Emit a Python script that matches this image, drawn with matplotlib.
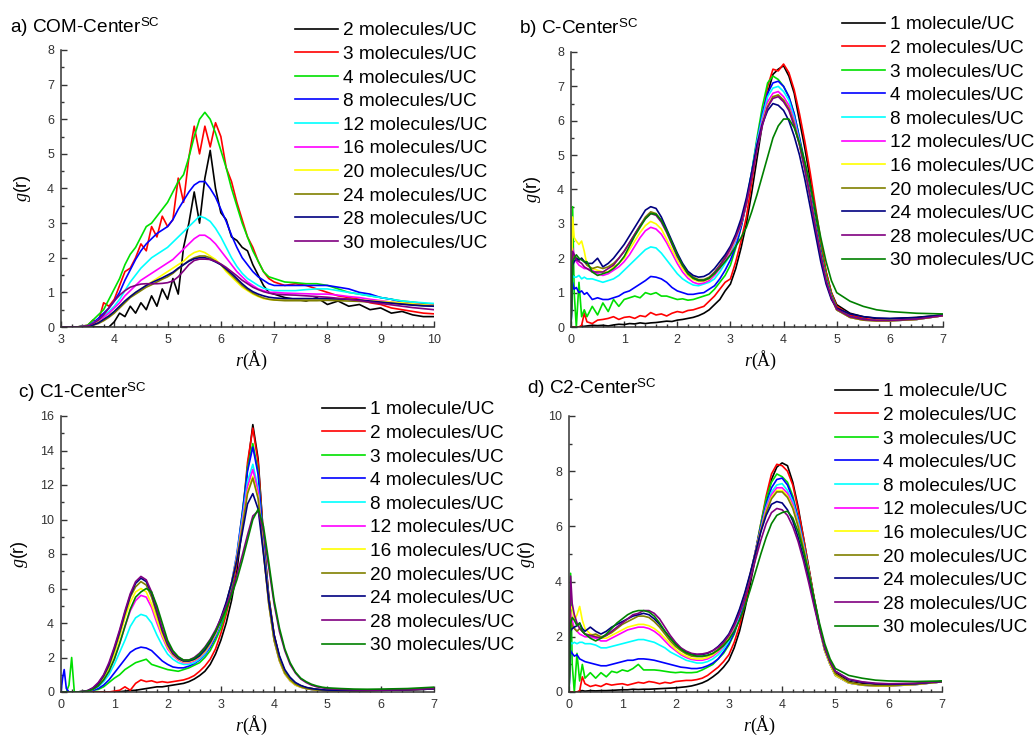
import matplotlib

matplotlib.use("Agg")

import matplotlib.pyplot as plt
from matplotlib.ticker import MultipleLocator


# ---------------------------------------------------------------
# a) COM-Center  (r grid + one g(r) list per loading)
# ---------------------------------------------------------------
COM_R = [
    3.0, 3.3, 3.5, 3.6, 3.7, 3.8, 3.9, 4.0, 4.1, 4.2,
    4.3, 4.4, 4.5, 4.6, 4.7, 4.8, 4.9, 5.0, 5.1, 5.2,
    5.3, 5.4, 5.5, 5.6, 5.7, 5.8, 5.9, 6.0, 6.1, 6.2,
    6.3, 6.4, 6.5, 6.6, 6.7, 6.8, 6.9, 7.0,
    7.2, 7.4, 7.6, 7.8, 8.0, 8.2, 8.4, 8.6, 8.8, 9.0, 9.2, 9.4, 9.6, 9.8, 10.0,
]
COM_2 = [
    0, 0, 0, 0, 0, 0, 0, 0.15, 0.4, 0.3,
    0.6, 0.4, 0.7, 0.5, 0.9, 0.6, 1.1, 0.8, 1.4, 0.95,
    2.3, 3.0, 3.9, 3.0, 4.3, 5.1, 4.0, 3.3, 3.1, 2.6,
    2.5, 2.3, 2.2, 1.8, 1.5, 1.2, 1.0, 0.95,
    0.85, 0.8, 0.75, 0.85, 0.65, 0.75, 0.6, 0.65, 0.5, 0.55, 0.4, 0.45, 0.35, 0.3, 0.3,
]
COM_3 = [
    0, 0, 0.05, 0.2, 0.15, 0.7, 0.6, 0.8, 1.2, 1.6,
    1.7, 2.0, 2.4, 2.2, 2.9, 2.6, 3.2, 2.9, 3.1, 4.3,
    3.6, 4.9, 5.8, 5.0, 5.8, 5.2, 5.9, 5.5, 4.6, 4.2,
    3.6, 3.1, 2.6, 2.3, 1.9, 1.6, 1.4, 1.3,
    1.2, 1.25, 1.2, 1.1, 1.0, 0.9, 0.85, 0.8, 0.7, 0.65, 0.55, 0.5, 0.45, 0.4, 0.38,
]
COM_4 = [
    0, 0, 0.05, 0.2, 0.35, 0.5, 0.8, 1.1, 1.4, 1.8,
    2.1, 2.3, 2.6, 2.9, 3.0, 3.2, 3.4, 3.6, 3.9, 4.2,
    4.4, 4.9, 5.5, 6.0, 6.2, 6.0, 5.6, 5.1, 4.6, 4.0,
    3.5, 3.0, 2.6, 2.2, 1.9, 1.6, 1.45, 1.4,
    1.3, 1.28, 1.25, 1.25, 1.2, 1.1, 1.0, 0.95, 0.9, 0.85, 0.8, 0.75, 0.72, 0.68, 0.65,
]
COM_8 = [
    0, 0, 0.03, 0.12, 0.25, 0.4, 0.55, 0.75, 1.0, 1.35,
    1.65, 1.95, 2.2, 2.4, 2.55, 2.7, 2.8, 2.9, 3.1, 3.4,
    3.65, 3.9, 4.1, 4.2, 4.2, 4.0, 3.75, 3.4, 3.05, 2.65,
    2.3, 2.0, 1.8, 1.6, 1.45, 1.35, 1.25, 1.2,
    1.2, 1.2, 1.2, 1.2, 1.2, 1.15, 1.1, 1.0, 0.95, 0.85, 0.8, 0.72, 0.68, 0.65, 0.62,
]
COM_12 = [
    0, 0, 0.03, 0.1, 0.2, 0.32, 0.45, 0.6, 0.8, 1.05,
    1.3, 1.5, 1.7, 1.85, 2.0, 2.1, 2.2, 2.3, 2.45, 2.6,
    2.75, 2.9, 3.05, 3.2, 3.15, 3.05, 2.85, 2.6, 2.3, 2.0,
    1.75, 1.55, 1.4, 1.3, 1.2, 1.12, 1.08, 1.05,
    1.05, 1.05, 1.08, 1.1, 1.1, 1.05, 1.0, 0.95, 0.9, 0.85, 0.8, 0.75, 0.72, 0.7, 0.68,
]
COM_16 = [
    0, 0, 0.02, 0.08, 0.18, 0.28, 0.4, 0.55, 0.7, 0.9,
    1.05, 1.2, 1.35, 1.45, 1.55, 1.65, 1.75, 1.85, 1.95, 2.1,
    2.25, 2.4, 2.55, 2.65, 2.65, 2.55, 2.4, 2.2, 2.0, 1.8,
    1.6, 1.45, 1.3, 1.2, 1.1, 1.05, 1.0, 1.0,
    0.98, 0.97, 0.96, 0.95, 0.95, 0.92, 0.88, 0.85, 0.8, 0.76, 0.72, 0.68, 0.66, 0.64, 0.62,
]
COM_20 = [
    0, 0, 0.02, 0.06, 0.14, 0.22, 0.32, 0.45, 0.6, 0.75,
    0.88, 1.0, 1.1, 1.2, 1.3, 1.4, 1.5, 1.6, 1.7, 1.8,
    1.9, 2.05, 2.15, 2.2, 2.15, 2.05, 1.95, 1.8, 1.6, 1.45,
    1.3, 1.15, 1.05, 0.95, 0.88, 0.82, 0.8, 0.78,
    0.78, 0.78, 0.78, 0.79, 0.8, 0.8, 0.8, 0.78, 0.76, 0.74, 0.72, 0.7, 0.67, 0.64, 0.62,
]
COM_24 = [
    0, 0, 0.02, 0.05, 0.1, 0.18, 0.28, 0.4, 0.55, 0.7,
    0.85, 0.95, 1.05, 1.15, 1.22, 1.3, 1.38, 1.45, 1.55, 1.68,
    1.8, 1.92, 2.0, 2.05, 2.05, 2.0, 1.9, 1.8, 1.65, 1.5,
    1.35, 1.2, 1.08, 0.98, 0.9, 0.84, 0.8, 0.78,
    0.76, 0.76, 0.76, 0.76, 0.77, 0.76, 0.75, 0.74, 0.72, 0.7, 0.68, 0.66, 0.64, 0.62, 0.6,
]
COM_28 = [
    0, 0, 0.02, 0.06, 0.12, 0.22, 0.32, 0.45, 0.6, 0.75,
    0.88, 1.0, 1.1, 1.2, 1.28, 1.35, 1.42, 1.5, 1.58, 1.7,
    1.8, 1.9, 1.97, 2.0, 2.0, 1.95, 1.88, 1.8, 1.68, 1.55,
    1.4, 1.25, 1.12, 1.02, 0.95, 0.9, 0.86, 0.84,
    0.82, 0.82, 0.82, 0.82, 0.82, 0.81, 0.8, 0.78, 0.75, 0.72, 0.69, 0.66, 0.63, 0.61, 0.6,
]
COM_30 = [
    0, 0, 0.03, 0.1, 0.2, 0.35, 0.55, 0.75, 0.92, 1.05,
    1.15, 1.2, 1.24, 1.25, 1.25, 1.25, 1.26, 1.28, 1.33, 1.45,
    1.62, 1.8, 1.92, 1.96, 1.96, 1.95, 1.9, 1.82, 1.72, 1.6,
    1.48, 1.35, 1.25, 1.15, 1.08, 1.02, 0.98, 0.95,
    0.93, 0.92, 0.9, 0.88, 0.86, 0.83, 0.8, 0.76, 0.72, 0.68, 0.64, 0.6, 0.56, 0.53, 0.5,
]

# shared r grid for panels b, c, d
R_GRID = [
    0, 0.03, 0.06, 0.1, 0.15, 0.2, 0.25, 0.3, 0.4, 0.5,
    0.6, 0.7, 0.8, 0.9, 1.0, 1.1, 1.2, 1.3, 1.4, 1.5,
    1.6, 1.7, 1.8, 1.9, 2.0, 2.1, 2.2, 2.3, 2.4, 2.5,
    2.6, 2.7, 2.8, 2.9, 3.0, 3.1, 3.2, 3.3, 3.4, 3.5,
    3.6, 3.7, 3.8, 3.9, 4.0, 4.1, 4.2, 4.3, 4.4, 4.5,
    4.6, 4.7, 4.8, 4.9, 5.0,
    5.25, 5.5, 5.75, 6.0, 6.5, 7.0,
]

# ---------------------------------------------------------------
# b) C-Center
# ---------------------------------------------------------------
CC_1 = [
    0, 0, 0, 0, 0, 0, 0.02, 0.03, 0.05, 0.04,
    0.05, 0.03, 0.06, 0.08, 0.07, 0.1, 0.09, 0.12, 0.1, 0.12,
    0.13, 0.15, 0.17, 0.16, 0.2, 0.22, 0.25, 0.28, 0.33, 0.4,
    0.5, 0.65, 0.8, 1.05, 1.25, 1.7, 2.3, 3.0, 3.9, 4.9,
    5.9, 6.8, 7.35, 7.5, 7.6, 7.3, 6.8, 6.0, 5.2, 4.3,
    3.3, 2.4, 1.6, 1.0, 0.65,
    0.4, 0.3, 0.25, 0.24, 0.28, 0.35,
]
CC_2 = [
    0, 0, 0, 0, 0, 0.05, 0.4, 0.15, 0.1, 0.2,
    0.22, 0.25, 0.3, 0.22, 0.28, 0.3, 0.25, 0.33, 0.3, 0.42,
    0.35, 0.38, 0.32, 0.4, 0.45, 0.42, 0.48, 0.5, 0.55, 0.6,
    0.75, 0.9, 1.1, 1.3, 1.4, 1.9, 2.5, 3.2, 4.2, 5.2,
    6.1, 7.0, 7.5, 7.45, 7.65, 7.4, 6.9, 6.2, 5.4, 4.5,
    3.5, 2.5, 1.6, 1.0, 0.6,
    0.35, 0.25, 0.2, 0.2, 0.25, 0.33,
]
CC_3 = [
    0, 3.5, 1.0, 0, 1.3, 0.3, 0.5, 0.3, 0.6, 0.35,
    0.7, 0.45, 0.8, 0.6, 0.8, 0.85, 0.9, 0.85, 1.0, 0.95,
    1.0, 0.9, 0.9, 0.85, 0.8, 0.82, 0.78, 0.8, 0.85, 0.9,
    0.95, 1.1, 1.3, 1.5, 1.8, 2.3, 2.9, 3.6, 4.5, 5.5,
    6.4, 7.1, 7.3, 7.2, 7.0, 6.7, 6.2, 5.5, 4.8, 4.0,
    3.1, 2.3, 1.5, 0.95, 0.55,
    0.3, 0.22, 0.18, 0.2, 0.25, 0.35,
]
CC_4 = [
    0, 1.3, 1.1, 1.15, 1.0, 1.05, 0.95, 1.0, 0.8, 0.85,
    0.8, 0.8, 0.85, 0.9, 1.0, 1.05, 1.15, 1.25, 1.35, 1.47,
    1.45, 1.4, 1.3, 1.15, 1.05, 1.0, 0.95, 0.95, 0.98, 1.0,
    1.1, 1.2, 1.4, 1.65, 1.95, 2.35, 2.9, 3.6, 4.5, 5.4,
    6.2, 6.8, 7.1, 7.15, 7.0, 6.7, 6.2, 5.5, 4.7, 3.9,
    3.0, 2.2, 1.4, 0.9, 0.5,
    0.3, 0.22, 0.18, 0.18, 0.22, 0.33,
]
CC_8 = [
    0, 1.5, 1.45, 1.45, 1.5, 1.4, 1.45, 1.4, 1.4, 1.35,
    1.3, 1.35, 1.4, 1.5, 1.65, 1.8, 1.95, 2.1, 2.25, 2.33,
    2.3, 2.15, 1.95, 1.75, 1.55, 1.4, 1.3, 1.22, 1.2, 1.25,
    1.3, 1.4, 1.6, 1.85, 2.1, 2.5, 3.0, 3.7, 4.5, 5.4,
    6.1, 6.7, 6.95, 7.0, 6.85, 6.6, 6.1, 5.4, 4.6, 3.8,
    2.9, 2.1, 1.35, 0.85, 0.5,
    0.28, 0.2, 0.18, 0.18, 0.22, 0.33,
]
CC_12 = [
    0, 2.3, 2.1, 1.9, 1.8, 1.75, 1.7, 1.7, 1.65, 1.55,
    1.5, 1.55, 1.65, 1.75, 1.9, 2.1, 2.35, 2.6, 2.8, 2.9,
    2.85, 2.7, 2.45, 2.15, 1.85, 1.6, 1.42, 1.3, 1.25, 1.28,
    1.35, 1.5, 1.7, 1.95, 2.2, 2.55, 3.0, 3.6, 4.4, 5.3,
    6.0, 6.55, 6.8, 6.85, 6.7, 6.45, 6.0, 5.35, 4.6, 3.8,
    2.9, 2.1, 1.35, 0.85, 0.5,
    0.28, 0.2, 0.18, 0.18, 0.22, 0.33,
]
CC_16 = [
    0, 3.2, 2.6, 2.5, 2.4, 2.5, 2.2, 1.8, 1.7, 1.65,
    1.6, 1.6, 1.75, 1.85, 2.0, 2.25, 2.5, 2.75, 2.95, 3.07,
    3.0, 2.85, 2.55, 2.25, 1.95, 1.7, 1.5, 1.38, 1.32, 1.33,
    1.4, 1.55, 1.75, 2.0, 2.25, 2.6, 3.0, 3.6, 4.4, 5.2,
    5.9, 6.45, 6.7, 6.75, 6.6, 6.35, 5.9, 5.3, 4.6, 3.8,
    2.9, 2.1, 1.35, 0.85, 0.5,
    0.28, 0.2, 0.18, 0.18, 0.22, 0.33,
]
CC_20 = [
    0, 2.1, 2.05, 2.0, 1.95, 2.0, 1.9, 1.8, 1.7, 1.75,
    1.7, 1.75, 1.85, 2.0, 2.2, 2.45, 2.7, 2.95, 3.2, 3.35,
    3.3, 3.1, 2.8, 2.45, 2.1, 1.8, 1.58, 1.45, 1.38, 1.38,
    1.45, 1.6, 1.8, 2.05, 2.3, 2.65, 3.05, 3.6, 4.4, 5.2,
    5.9, 6.4, 6.7, 6.75, 6.6, 6.35, 5.9, 5.3, 4.6, 3.8,
    2.9, 2.1, 1.35, 0.85, 0.5,
    0.28, 0.2, 0.18, 0.18, 0.22, 0.33,
]
CC_24 = [
    0, 1.8, 1.9, 2.0, 1.95, 2.0, 1.9, 1.85, 1.85, 2.0,
    1.75, 1.85, 2.0, 2.2, 2.4, 2.65, 2.9, 3.15, 3.4, 3.5,
    3.45, 3.2, 2.85, 2.5, 2.15, 1.85, 1.62, 1.5, 1.45, 1.47,
    1.55, 1.7, 1.9, 2.1, 2.35, 2.7, 3.15, 3.75, 4.5, 5.3,
    5.9, 6.3, 6.5, 6.45, 6.3, 6.0, 5.55, 5.0, 4.3, 3.5,
    2.7, 1.9, 1.25, 0.8, 0.55,
    0.38, 0.3, 0.26, 0.25, 0.27, 0.35,
]
CC_28 = [
    0, 2.2, 2.1, 1.95, 1.9, 1.85, 1.75, 1.7, 1.6, 1.6,
    1.6, 1.7, 1.8, 2.0, 2.2, 2.45, 2.7, 2.95, 3.15, 3.3,
    3.25, 3.05, 2.75, 2.4, 2.05, 1.78, 1.55, 1.42, 1.35, 1.35,
    1.42, 1.58, 1.78, 2.0, 2.28, 2.62, 3.0, 3.6, 4.35, 5.15,
    5.85, 6.4, 6.65, 6.7, 6.55, 6.3, 5.85, 5.3, 4.6, 3.8,
    2.9, 2.1, 1.35, 0.85, 0.52,
    0.3, 0.22, 0.19, 0.19, 0.23, 0.33,
]
CC_30 = [
    0, 1.9, 2.0, 2.1, 2.0, 1.95, 1.9, 1.9, 1.6, 1.5,
    1.55, 1.6, 1.7, 1.85, 2.05, 2.35, 2.65, 2.9, 3.15, 3.3,
    3.28, 3.1, 2.8, 2.45, 2.1, 1.8, 1.55, 1.42, 1.36, 1.36,
    1.42, 1.55, 1.72, 1.9, 2.1, 2.35, 2.6, 2.9, 3.35, 3.85,
    4.4, 4.95, 5.5, 5.85, 6.05, 6.05, 5.8, 5.35, 4.8, 4.15,
    3.4, 2.6, 1.9, 1.35, 1.0,
    0.75, 0.6, 0.5, 0.45, 0.4, 0.38,
]

# ---------------------------------------------------------------
# c) C1-Center
# ---------------------------------------------------------------
C1C_1 = [
    0, 0, 0, 0, 0, 0, 0, 0, 0, 0,
    0, 0, 0, 0, 0, 0.02, 0.05, 0.08, 0.1, 0.15,
    0.2, 0.25, 0.3, 0.3, 0.35, 0.4, 0.45, 0.5, 0.6, 0.75,
    0.95, 1.2, 1.6, 2.2, 3.0, 4.0, 5.3, 7.0, 9.5, 13.0,
    15.5, 13.5, 9.0, 5.5, 3.3, 2.0, 1.2, 0.75, 0.5, 0.35,
    0.25, 0.2, 0.15, 0.12, 0.1,
    0.08, 0.08, 0.1, 0.12, 0.15, 0.2,
]
C1C_2 = [
    0, 0, 0, 0, 0, 0, 0, 0, 0, 0,
    0, 0, 0, 0, 0.05, 0.1, 0.3, 0.1, 0.5, 0.7,
    0.6, 0.65, 0.55, 0.6, 0.55, 0.6, 0.65, 0.7, 0.8, 0.95,
    1.2, 1.5, 1.9, 2.5, 3.4, 4.5, 5.8, 7.5, 10.0, 13.3,
    15.3, 13.3, 9.0, 5.5, 3.3, 2.0, 1.2, 0.75, 0.5, 0.35,
    0.25, 0.2, 0.15, 0.12, 0.1,
    0.08, 0.08, 0.1, 0.12, 0.15, 0.2,
]
C1C_3 = [
    0, 0, 0, 0, 0.4, 2.0, 0, 0, 0, 0.05,
    0.1, 0.15, 0.3, 0.55, 0.8, 1.0, 1.3, 1.5, 1.7, 1.8,
    1.9, 1.6, 1.5, 1.4, 1.3, 1.25, 1.2, 1.3, 1.4, 1.55,
    1.7, 2.0, 2.4, 3.0, 3.7, 4.7, 6.0, 7.8, 10.3, 13.0,
    14.4, 12.8, 8.8, 5.4, 3.2, 2.0, 1.2, 0.75, 0.5, 0.35,
    0.25, 0.2, 0.15, 0.12, 0.1,
    0.08, 0.08, 0.1, 0.12, 0.15, 0.2,
]
C1C_4 = [
    0, 0.8, 1.3, 0.2, 0, 0, 0, 0, 0, 0.05,
    0.1, 0.2, 0.4, 0.7, 1.1, 1.5, 1.9, 2.3, 2.5, 2.6,
    2.55, 2.4, 2.1, 1.8, 1.6, 1.45, 1.4, 1.4, 1.5, 1.65,
    1.85, 2.15, 2.6, 3.2, 4.0, 5.0, 6.3, 8.0, 10.3, 12.8,
    14.2, 12.6, 8.7, 5.3, 3.1, 1.9, 1.1, 0.7, 0.45, 0.3,
    0.2, 0.15, 0.12, 0.1, 0.08,
    0.07, 0.07, 0.08, 0.1, 0.12, 0.18,
]
C1C_8 = [
    0, 0, 0, 0, 0, 0, 0, 0, 0.02, 0.05,
    0.15, 0.3, 0.6, 1.0, 1.6, 2.3, 3.0, 3.8, 4.3, 4.5,
    4.4, 4.0, 3.3, 2.7, 2.2, 1.9, 1.7, 1.6, 1.6, 1.7,
    1.9, 2.2, 2.7, 3.3, 4.1, 5.1, 6.3, 7.9, 10.0, 12.2,
    13.2, 11.8, 8.3, 5.1, 3.0, 1.8, 1.05, 0.65, 0.4, 0.28,
    0.2, 0.15, 0.12, 0.1, 0.08,
    0.07, 0.07, 0.08, 0.1, 0.12, 0.18,
]
C1C_12 = [
    0, 0, 0, 0, 0, 0, 0, 0, 0.02, 0.05,
    0.15, 0.35, 0.7, 1.2, 1.9, 2.8, 3.8, 4.7, 5.3, 5.6,
    5.5, 4.9, 4.0, 3.2, 2.5, 2.1, 1.85, 1.7, 1.7, 1.8,
    2.0, 2.3, 2.75, 3.35, 4.15, 5.1, 6.3, 7.8, 9.8, 11.9,
    12.9, 11.6, 8.2, 5.1, 3.0, 1.8, 1.05, 0.65, 0.4, 0.28,
    0.2, 0.15, 0.12, 0.1, 0.08,
    0.07, 0.07, 0.08, 0.1, 0.12, 0.18,
]
C1C_16 = [
    0, 0, 0, 0, 0, 0, 0, 0, 0.02, 0.06,
    0.18, 0.4, 0.8, 1.4, 2.2, 3.2, 4.3, 5.2, 5.8, 6.0,
    5.8, 5.1, 4.2, 3.3, 2.6, 2.15, 1.9, 1.75, 1.75, 1.85,
    2.05, 2.35, 2.8, 3.4, 4.2, 5.1, 6.3, 7.7, 9.6, 11.6,
    12.5, 11.3, 8.1, 5.1, 3.0, 1.8, 1.05, 0.65, 0.4, 0.28,
    0.2, 0.15, 0.12, 0.1, 0.08,
    0.07, 0.07, 0.08, 0.1, 0.12, 0.18,
]
C1C_20 = [
    0, 0, 0, 0, 0, 0, 0, 0, 0.03, 0.07,
    0.2, 0.45, 0.9, 1.5, 2.4, 3.4, 4.5, 5.5, 6.1, 6.4,
    6.2, 5.5, 4.5, 3.5, 2.7, 2.2, 1.95, 1.8, 1.8, 1.9,
    2.1, 2.4, 2.85, 3.45, 4.2, 5.1, 6.3, 7.7, 9.5, 11.5,
    12.4, 11.2, 8.1, 5.1, 3.0, 1.85, 1.1, 0.7, 0.45, 0.3,
    0.2, 0.15, 0.12, 0.1, 0.08,
    0.07, 0.07, 0.08, 0.1, 0.12, 0.18,
]
C1C_24 = [
    0, 0, 0, 0, 0, 0, 0, 0, 0.03, 0.08,
    0.22, 0.5, 0.95, 1.6, 2.5, 3.5, 4.6, 5.6, 6.3, 6.6,
    6.4, 5.7, 4.7, 3.6, 2.8, 2.25, 1.95, 1.8, 1.8, 1.9,
    2.1, 2.45, 2.9, 3.5, 4.3, 5.2, 6.3, 7.6, 9.2, 10.9,
    11.5, 10.6, 8.0, 5.3, 3.3, 2.1, 1.3, 0.85, 0.55, 0.38,
    0.27, 0.2, 0.16, 0.13, 0.11,
    0.09, 0.08, 0.09, 0.1, 0.12, 0.18,
]
C1C_28 = [
    0, 0, 0, 0, 0, 0, 0, 0, 0.03, 0.08,
    0.25, 0.55, 1.0, 1.7, 2.6, 3.6, 4.7, 5.7, 6.4, 6.7,
    6.5, 5.8, 4.8, 3.7, 2.85, 2.3, 2.0, 1.85, 1.85, 2.0,
    2.25, 2.6, 3.05, 3.6, 4.25, 5.0, 5.8, 6.8, 7.9, 9.1,
    10.2, 10.5, 9.3, 7.2, 5.1, 3.5, 2.4, 1.6, 1.1, 0.75,
    0.55, 0.4, 0.3, 0.24, 0.2,
    0.15, 0.12, 0.11, 0.11, 0.13, 0.2,
]
C1C_30 = [
    0, 0, 0, 0, 0, 0, 0, 0, 0.02, 0.05,
    0.15, 0.35, 0.7, 1.2, 1.9, 2.8, 3.8, 4.8, 5.5, 5.8,
    6.0, 5.8, 5.0, 4.0, 3.0, 2.4, 2.05, 1.85, 1.85, 1.95,
    2.2, 2.55, 3.0, 3.5, 4.1, 4.8, 5.6, 6.5, 7.6, 8.8,
    10.0, 10.6, 9.6, 7.5, 5.3, 3.7, 2.5, 1.7, 1.15, 0.8,
    0.6, 0.45, 0.35, 0.28, 0.24,
    0.2, 0.17, 0.16, 0.17, 0.2, 0.28,
]

# ---------------------------------------------------------------
# d) C2-Center
# ---------------------------------------------------------------
C2C_1 = [
    0, 0, 0, 0, 0, 0.02, 0.05, 0.03, 0.05, 0.04,
    0.05, 0.05, 0.06, 0.07, 0.08, 0.08, 0.1, 0.09, 0.1, 0.1,
    0.11, 0.12, 0.13, 0.14, 0.15, 0.17, 0.19, 0.22, 0.27, 0.33,
    0.42, 0.55, 0.7, 0.9, 1.15, 1.6, 2.2, 3.0, 3.9, 4.9,
    5.9, 6.9, 7.7, 8.15, 8.3, 8.2, 7.6, 6.7, 5.6, 4.5,
    3.4, 2.4, 1.6, 1.05, 0.7,
    0.38, 0.3, 0.27, 0.26, 0.3, 0.38,
]
C2C_2 = [
    0, 0, 0, 0, 0, 0.05, 0.55, 0.3, 0.2, 0.25,
    0.2, 0.3, 0.25, 0.28, 0.3, 0.25, 0.3, 0.35, 0.32, 0.38,
    0.35, 0.3, 0.35, 0.32, 0.38, 0.4, 0.42, 0.42, 0.45, 0.5,
    0.6, 0.75, 0.9, 1.1, 1.35, 1.8, 2.4, 3.2, 4.1, 5.1,
    6.1, 7.1, 7.9, 8.25, 8.2, 8.0, 7.5, 6.6, 5.6, 4.5,
    3.4, 2.4, 1.6, 1.05, 0.65,
    0.35, 0.27, 0.24, 0.24, 0.28, 0.37,
]
C2C_3 = [
    0, 4.3, 1.0, 0, 1.4, 0.4, 1.0, 0.5, 0.7, 0.5,
    0.7, 0.55, 0.75, 0.7, 0.8, 0.75, 0.85, 1.0, 0.8, 0.8,
    0.8, 0.78, 0.75, 0.72, 0.7, 0.72, 0.7, 0.7, 0.72, 0.8,
    0.9, 1.0, 1.2, 1.4, 1.7, 2.1, 2.7, 3.4, 4.2, 5.1,
    6.1, 7.0, 7.6, 7.9, 7.8, 7.6, 7.1, 6.3, 5.4, 4.4,
    3.3, 2.3, 1.5, 1.0, 0.6,
    0.33, 0.26, 0.23, 0.23, 0.28, 0.37,
]
C2C_4 = [
    0, 1.5, 1.4, 1.3, 1.35, 1.2, 1.15, 1.1, 1.05, 1.0,
    0.95, 0.95, 1.0, 1.05, 1.1, 1.15, 1.15, 1.2, 1.2, 1.18,
    1.15, 1.1, 1.05, 1.0, 0.95, 0.9, 0.88, 0.85, 0.85, 0.88,
    0.95, 1.05, 1.2, 1.45, 1.75, 2.15, 2.7, 3.4, 4.2, 5.1,
    6.0, 6.8, 7.4, 7.7, 7.75, 7.5, 7.0, 6.3, 5.4, 4.4,
    3.3, 2.3, 1.5, 1.0, 0.6,
    0.33, 0.25, 0.22, 0.22, 0.27, 0.37,
]
C2C_8 = [
    0, 1.8, 1.75, 1.8, 1.75, 1.8, 1.8, 1.75, 1.75, 1.7,
    1.6, 1.6, 1.65, 1.7, 1.75, 1.8, 1.85, 1.9, 1.9, 1.85,
    1.8, 1.7, 1.6, 1.45, 1.35, 1.25, 1.15, 1.1, 1.05, 1.05,
    1.1, 1.2, 1.35, 1.55, 1.85, 2.25, 2.8, 3.45, 4.2, 5.1,
    5.9, 6.7, 7.25, 7.5, 7.55, 7.3, 6.9, 6.2, 5.35, 4.35,
    3.3, 2.3, 1.5, 1.0, 0.6,
    0.33, 0.25, 0.22, 0.22, 0.27, 0.37,
]
C2C_12 = [
    0, 2.9, 2.6, 2.3, 2.2, 2.1, 2.05, 2.0, 2.0, 1.95,
    1.85, 1.85, 1.95, 2.05, 2.15, 2.25, 2.3, 2.35, 2.35, 2.3,
    2.2, 2.05, 1.85, 1.65, 1.5, 1.35, 1.25, 1.18, 1.15, 1.15,
    1.2, 1.3, 1.45, 1.65, 1.95, 2.35, 2.85, 3.5, 4.25, 5.1,
    5.9, 6.65, 7.15, 7.4, 7.4, 7.2, 6.8, 6.1, 5.3, 4.35,
    3.3, 2.3, 1.5, 1.0, 0.6,
    0.33, 0.25, 0.22, 0.22, 0.27, 0.37,
]
C2C_16 = [
    0, 3.0, 3.1, 2.6, 2.8, 3.1, 2.6, 2.3, 2.1, 2.05,
    1.95, 1.95, 2.05, 2.15, 2.25, 2.35, 2.4, 2.45, 2.45, 2.4,
    2.3, 2.15, 1.95, 1.75, 1.55, 1.4, 1.3, 1.22, 1.2, 1.2,
    1.25, 1.35, 1.5, 1.7, 2.0, 2.4, 2.9, 3.5, 4.25, 5.05,
    5.85, 6.55, 7.05, 7.3, 7.3, 7.1, 6.7, 6.05, 5.25, 4.35,
    3.3, 2.3, 1.5, 1.0, 0.6,
    0.33, 0.25, 0.22, 0.22, 0.27, 0.37,
]
C2C_20 = [
    0, 2.6, 2.4, 2.3, 2.2, 2.3, 2.2, 2.1, 2.05, 2.1,
    2.0, 2.05, 2.15, 2.3, 2.45, 2.55, 2.65, 2.75, 2.75, 2.7,
    2.55, 2.35, 2.1, 1.85, 1.65, 1.5, 1.38, 1.3, 1.28, 1.28,
    1.32, 1.4, 1.55, 1.75, 2.05, 2.45, 2.95, 3.55, 4.25, 5.05,
    5.85, 6.5, 7.0, 7.25, 7.25, 7.05, 6.65, 6.0, 5.2, 4.35,
    3.3, 2.35, 1.55, 1.05, 0.65,
    0.35, 0.26, 0.23, 0.23, 0.28, 0.37,
]
C2C_24 = [
    0, 2.2, 2.3, 2.35, 2.4, 2.5, 2.3, 2.2, 2.35, 2.2,
    2.1, 2.2, 2.35, 2.45, 2.55, 2.65, 2.75, 2.8, 2.85, 2.8,
    2.65, 2.45, 2.2, 1.95, 1.75, 1.58, 1.45, 1.38, 1.35, 1.36,
    1.4, 1.5, 1.65, 1.85, 2.1, 2.5, 3.0, 3.6, 4.3, 5.05,
    5.8, 6.4, 6.8, 6.9, 6.85, 6.6, 6.2, 5.6, 4.9, 4.1,
    3.2, 2.35, 1.6, 1.1, 0.75,
    0.45, 0.35, 0.3, 0.28, 0.3, 0.38,
]
C2C_28 = [
    0, 4.2, 3.2, 2.8, 2.5, 2.3, 2.2, 2.1, 2.05, 2.0,
    1.95, 2.05, 2.2, 2.35, 2.5, 2.65, 2.8, 2.85, 2.95, 2.95,
    2.85, 2.65, 2.35, 2.05, 1.8, 1.6, 1.48, 1.4, 1.37, 1.38,
    1.42, 1.5, 1.62, 1.8, 2.05, 2.4, 2.85, 3.4, 4.05, 4.8,
    5.5, 6.1, 6.5, 6.65, 6.6, 6.4, 6.0, 5.45, 4.75, 3.95,
    3.1, 2.3, 1.6, 1.1, 0.75,
    0.47, 0.37, 0.32, 0.3, 0.32, 0.38,
]
C2C_30 = [
    0, 2.5, 2.7, 2.6, 2.4, 2.5, 2.2, 2.1, 1.95, 1.85,
    1.95, 2.1, 2.3, 2.5, 2.65, 2.8, 2.9, 2.95, 2.95, 2.9,
    2.75, 2.5, 2.2, 1.95, 1.72, 1.55, 1.42, 1.35, 1.3, 1.3,
    1.33, 1.4, 1.52, 1.68, 1.9, 2.2, 2.6, 3.1, 3.7, 4.35,
    5.0, 5.6, 6.1, 6.4, 6.5, 6.55, 6.3, 5.8, 5.1, 4.3,
    3.4, 2.5, 1.75, 1.2, 0.85,
    0.6, 0.5, 0.43, 0.4, 0.38, 0.4,
]

LOADINGS_A = [2, 3, 4, 8, 12, 16, 20, 24, 28, 30]
LOADINGS_BCD = [1, 2, 3, 4, 8, 12, 16, 20, 24, 28, 30]

ORIGIN_COLORS = [
    "#000000", "#FF0000", "#00E000", "#0000FF", "#00FFFF", "#FF00FF",
    "#FFFF00", "#808000", "#000080", "#800080", "#008000",
]

FIG_W, FIG_H = 1035, 737
FONT = "Liberation Sans"


def loading_label(n):
    if n == 1:
        return "1 molecule/UC"
    return f"{n} molecules/UC"


def draw_panel(ax, r, series, loadings, colors, xlim, ylim, ymajor,
               title, title_xy, legend_xy, ylabel_x):
    for g, n, color in zip(series, loadings, colors):
        ax.plot(r, g, color=color, lw=1.2, label=loading_label(n))

    ax.set_xlim(*xlim)
    ax.set_ylim(*ylim)
    ax.xaxis.set_major_locator(MultipleLocator(1))
    ax.xaxis.set_minor_locator(MultipleLocator(0.2))
    ax.yaxis.set_major_locator(MultipleLocator(ymajor))
    ax.yaxis.set_minor_locator(MultipleLocator(ymajor / 2))

    for side in ("top", "right"):
        ax.spines[side].set_visible(False)
    for side in ("left", "bottom"):
        ax.spines[side].set_color("#333333")
        ax.spines[side].set_linewidth(1.1)

    ax.tick_params(which="both", direction="in", color="#333333",
                   labelsize=9, labelcolor="#333333", width=1.0)
    ax.tick_params(which="major", length=4.5, pad=5)
    ax.tick_params(which="minor", length=2.5)
    for lab in ax.get_xticklabels() + ax.get_yticklabels():
        lab.set_fontfamily(FONT)

    ax.set_ylabel("$g$(r)", fontsize=13, fontfamily=FONT)
    ax.yaxis.set_label_coords(ylabel_x, 0.5)
    ax.set_xlabel("$r$(Å)", fontsize=13, fontfamily="Liberation Serif")
    ax.xaxis.set_label_coords(0.51, -0.08)

    fig = ax.figure
    fig.text(title_xy[0] / FIG_W, 1 - title_xy[1] / FIG_H,
             title + r"$^{\mathrm{SC}}$", fontsize=13.7, fontfamily=FONT,
             ha="left", va="center")

    ax.legend(
        loc="upper left",
        bbox_to_anchor=(legend_xy[0] / FIG_W, 1 - legend_xy[1] / FIG_H),
        bbox_transform=fig.transFigure,
        frameon=False,
        prop={"family": FONT, "size": 13.7},
        handlelength=2.25,
        handletextpad=0.25,
        labelspacing=0.33,
        borderpad=0,
        borderaxespad=0,
    )


def axes_rect(left, right, top, bottom):
    return [left / FIG_W, 1 - bottom / FIG_H,
            (right - left) / FIG_W, (bottom - top) / FIG_H]


def main():
    plt.rcParams["mathtext.fontset"] = "custom"
    plt.rcParams["mathtext.rm"] = FONT
    plt.rcParams["mathtext.it"] = "Liberation Serif:italic"

    fig = plt.figure(figsize=(FIG_W / 100, FIG_H / 100), dpi=100)

    ax_a = fig.add_axes(axes_rect(61, 434, 50, 327))
    ax_b = fig.add_axes(axes_rect(571, 943, 52, 327))
    ax_c = fig.add_axes(axes_rect(61, 434, 416, 692))
    ax_d = fig.add_axes(axes_rect(569, 942, 416, 692))

    draw_panel(
        ax_a, COM_R,
        [COM_2, COM_3, COM_4, COM_8, COM_12, COM_16, COM_20, COM_24, COM_28, COM_30],
        LOADINGS_A, ORIGIN_COLORS[:10], (3, 10), (0, 8), 1,
        "a) COM-Center", (10, 27), (295, 22), -0.075,
    )
    draw_panel(
        ax_b, R_GRID,
        [CC_1, CC_2, CC_3, CC_4, CC_8, CC_12, CC_16, CC_20, CC_24, CC_28, CC_30],
        LOADINGS_BCD, ORIGIN_COLORS, (0, 7), (0, 8), 1,
        "b) C-Center", (519, 28), (842, 16), -0.075,
    )
    draw_panel(
        ax_c, R_GRID,
        [C1C_1, C1C_2, C1C_3, C1C_4, C1C_8, C1C_12, C1C_16, C1C_20, C1C_24, C1C_28, C1C_30],
        LOADINGS_BCD, ORIGIN_COLORS, (0, 7), (0, 16), 2,
        "c) C1-Center", (18, 392), (322, 401), -0.083,
    )
    draw_panel(
        ax_d, R_GRID,
        [C2C_1, C2C_2, C2C_3, C2C_4, C2C_8, C2C_12, C2C_16, C2C_20, C2C_24, C2C_28, C2C_30],
        LOADINGS_BCD, ORIGIN_COLORS, (0, 7), (0, 10), 2,
        "d) C2-Center", (527, 388), (835, 383), -0.086,
    )

    fig.savefig("out.png", dpi=100)
    plt.close(fig)


if __name__ == "__main__":
    main()
